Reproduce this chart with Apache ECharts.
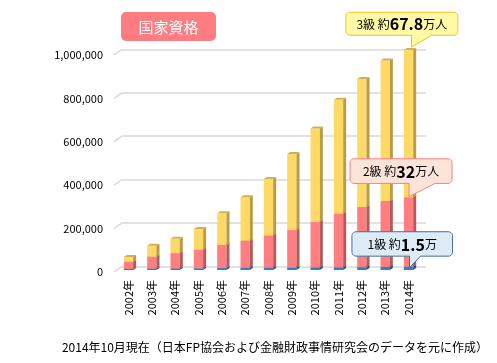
<!DOCTYPE html>
<html><head><meta charset="utf-8">
<script src="https://cdn.jsdelivr.net/npm/echarts@6/dist/echarts.min.js"></script>
<style>html,body{margin:0;padding:0;background:#fff}#c{width:497px;height:363px}</style>
</head><body><div id="c"></div>
<script>
const years = ['2002年','2003年','2004年','2005年','2006年','2007年','2008年','2009年','2010年','2011年','2012年','2013年','2014年'];
const kyu1 = [5000, 6000, 7000, 8000, 9000, 10000, 10500, 11000, 12000, 12500, 13500, 14000, 15000];
const kyu2 = [33000, 55000, 71000, 85500, 106000, 125000, 149000, 173000, 209000, 247000, 277000, 304000, 320000];
const kyu3 = [22000, 51000, 66000, 95000, 146000, 200000, 259000, 350000, 431000, 524000, 589000, 646000, 678000];
const yTicks = [0, 200000, 400000, 600000, 800000, 1000000];

const FONT = '"Noto Sans CJK JP","Noto Sans",sans-serif';
const chart = echarts.init(document.getElementById('c'), null, {renderer:'canvas'});

const DX = 3, DY = 2;
const palette = [
  {front:'#2F7FCF', side:'#1D5690', top:'#2568A8'},
  {front:'#FF7F80', side:'#B55A5C', top:'#D06A6C'},
  {front:'#FFD966', side:'#B89C48', top:'#CDB257'}
];

function stackData(idx){
  const arrs=[kyu1,kyu2,kyu3];
  return years.map((y,i)=>{
    let base=0; for(let k=0;k<idx;k++) base+=arrs[k][i];
    return [i, base, base+arrs[idx][i]];
  });
}

function barRender(colors){
  return function(params, api){
    const i=api.value(0), b=api.value(1), t=api.value(2);
    const p0=api.coord([i,b]), p1=api.coord([i,t]);
    const w=api.size([1,0])[0]*0.4;
    const x=p0[0]-w/2;
    return {type:'group', children:[
      {type:'rect', shape:{x:x, y:p1[1], width:w, height:p0[1]-p1[1]}, style:{fill:colors.front}},
      {type:'polygon', shape:{points:[[x+w,p1[1]],[x+w+DX,p1[1]-DY],[x+w+DX,p0[1]-DY],[x+w,p0[1]]]}, style:{fill:colors.side}},
      {type:'polygon', shape:{points:[[x,p1[1]],[x+DX,p1[1]-DY],[x+w+DX,p1[1]-DY],[x+w,p1[1]]]}, style:{fill:colors.top}}
    ]};
  };
}

const hiddenY = {type:'value', min:0, max:1000000, interval:200000, axisLine:{show:false}, axisTick:{show:false}, axisLabel:{show:false}, splitLine:{show:false}};

const option = {
  animation:false,
  grid:[
    {left:114, right:70, top:55, bottom:91},
    {left:122, right:71, top:49.3, bottom:96.5},
    {left:116.8, right:76.8, top:52.8, bottom:93}
  ],
  xAxis:[
    {gridIndex:0, type:'value', min:0, max:1, show:false},
    {gridIndex:1, type:'value', min:0, max:1, show:false},
    {gridIndex:2, type:'category', data:years, axisLine:{show:false}, axisTick:{show:false},
     axisLabel:{rotate:90, margin:10, interval:0, fontSize:11, color:'#000', fontFamily:FONT}}
  ],
  yAxis:[
    Object.assign({}, hiddenY, {gridIndex:0, axisLabel:{show:true, margin:11, fontSize:11, color:'#000', fontFamily:FONT,
      formatter:v=>String(v).replace(/\B(?=(\d{3})+(?!\d))/g, ',')}}),
    Object.assign({}, hiddenY, {gridIndex:1, splitLine:{show:true, lineStyle:{color:'#D9D9D9', width:1.5}}}),
    Object.assign({}, hiddenY, {gridIndex:2})
  ],
  series:[
    {type:'custom', xAxisIndex:0, yAxisIndex:0, data:yTicks.map(v=>[0,v]),
     renderItem:function(params, api){
       const p=api.coord([0, api.value(1)]);
       return {type:'line', shape:{x1:p[0], y1:p[1], x2:p[0]+8, y2:p[1]-5.7}, style:{stroke:'#D9D9D9', lineWidth:1.5}};
     }},
    {type:'custom', xAxisIndex:2, yAxisIndex:2, data:stackData(0), renderItem:barRender(palette[0])},
    {type:'custom', xAxisIndex:2, yAxisIndex:2, data:stackData(1), renderItem:barRender(palette[1])},
    {type:'custom', xAxisIndex:2, yAxisIndex:2, data:stackData(2), renderItem:barRender(palette[2])}
  ]
};
chart.setOption(option);

function arcPts(cx, cy, r, a0, a1){
  const pts=[]; const n=5;
  for(let k=0;k<=n;k++){ const a=a0+(a1-a0)*k/n; pts.push([cx+r*Math.cos(a), cy+r*Math.sin(a)]); }
  return pts;
}
function calloutPoints(x,y,w,h,r,t1,t2,tx,ty){
  const b=y+h, P=Math.PI;
  let pts=[];
  pts=pts.concat(arcPts(x+r, y+r, r, P, 1.5*P));
  pts=pts.concat(arcPts(x+w-r, y+r, r, 1.5*P, 2*P));
  pts=pts.concat(arcPts(x+w-r, b-r, r, 0, 0.5*P));
  pts.push([t2,b],[tx,ty],[t1,b]);
  pts=pts.concat(arcPts(x+r, b-r, r, 0.5*P, P));
  return pts;
}

function callout(tip, left, top, w, h, tailW, fill, stroke, rich, text){
  const x=tip[0]-left, y=tip[1]-top;
  return [
    {type:'polygon', shape:{points:calloutPoints(x,y,w,h,4,tip[0],tip[0]+tailW,tip[0],tip[1])},
     style:{fill:fill, stroke:stroke, lineWidth:1}, z:10},
    {type:'text', x:x+w/2, y:y+h/2+0.5, z:11,
     style:{text:text, rich:rich, align:'center', verticalAlign:'middle', fontFamily:FONT}}
  ];
}

const last = years.length-1;
const c1 = chart.convertToPixel({xAxisIndex:2, yAxisIndex:2}, [last, kyu1[last]]);
const c2 = chart.convertToPixel({xAxisIndex:2, yAxisIndex:2}, [last, kyu1[last]+kyu2[last]]);
const c3 = chart.convertToPixel({xAxisIndex:2, yAxisIndex:2}, [last, kyu1[last]+kyu2[last]+kyu3[last]]);
const rich = {
  n:{fontSize:12, fontFamily:FONT, fill:'#000'},
  b:{fontSize:16, fontWeight:'bold', fontFamily:FONT, fill:'#000'}
};

const graphics = [
  {type:'rect', shape:{x:121, y:12, width:95, height:29, r:5}, style:{fill:'#FF7C80'}},
  {type:'text', x:168.5, y:27, style:{text:'国家資格', fill:'#fff', fontSize:15, fontFamily:FONT, align:'center', verticalAlign:'middle'}},
  {type:'text', x:275, y:347, style:{text:'2014年10月現在（日本FP協会および金融財政事情研究会のデータを元に作成）', fill:'#000', fontSize:12, fontFamily:FONT, align:'center', verticalAlign:'middle'}}
]
.concat(callout([c3[0]+3, c3[1]-3], 65.7, 34.7, 112, 23, 20, '#FFF9A8', '#F2C21A', rich, '{n|3級 約}{b|67.8}{n|万人}'))
.concat(callout([c2[0]+0.5, c2[1]-0.5], 59, 38, 102, 24.7, 26, '#FCE4DA', '#FF8080', rich, '{n|2級 約}{b|32}{n|万人}'))
.concat(callout([c1[0]+1, c1[1]+1], 57.6, 36, 100.6, 24.4, 11, '#DDEBF7', '#41719C', rich, '{n|1級 約}{b|1.5}{n|万}'));

chart.setOption({graphic:graphics});
</script></body></html>
